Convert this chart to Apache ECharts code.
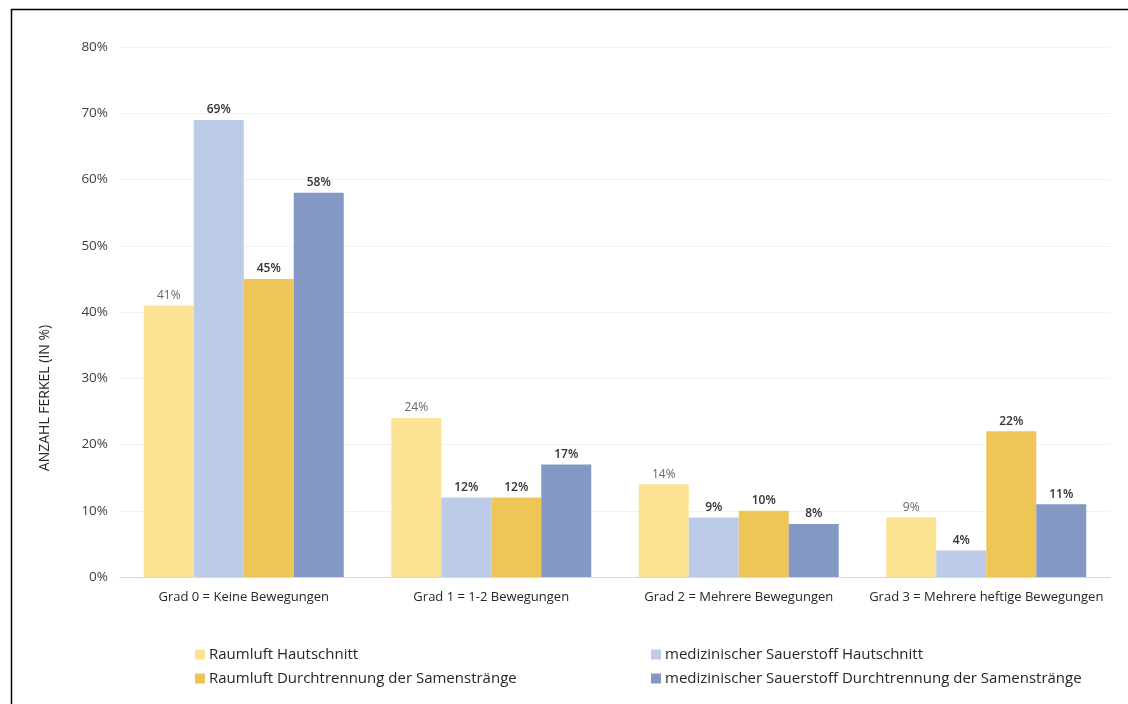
<!DOCTYPE html>
<html>
<head>
<meta charset="utf-8">
<script src="https://cdn.jsdelivr.net/npm/echarts@6/dist/echarts.min.js"></script>
<style>
  html, body { margin: 0; padding: 0; background: #fff; }
  #chart { width: 1128px; height: 704px; }
</style>
</head>
<body>
<div id="chart"></div>
<script>
// Grade categories (x axis)
const categories = [
  'Grad 0 = Keine Bewegungen',
  'Grad 1 = 1-2 Bewegungen',
  'Grad 2 = Mehrere Bewegungen',
  'Grad 3 = Mehrere heftige Bewegungen'
];

// Series names
const seriesNames = [
  'Raumluft Hautschnitt',
  'medizinischer Sauerstoff Hautschnitt',
  'Raumluft Durchtrennung der Samenstränge',
  'medizinischer Sauerstoff Durchtrennung der Samenstränge'
];

// Share of piglets per grade, in percent
const raumluftHaut = [41, 24, 14, 9];
const sauerstoffHaut = [69, 12, 9, 4];
const raumluftSamen = [45, 12, 10, 22];
const sauerstoffSamen = [58, 17, 8, 11];

// Y axis ticks
const yMin = 0;
const yMax = 80;
const yStep = 10;

const colors = ['#fce394', '#bccbe8', '#edc657', '#8399c4'];
const fontFamily = '"Open Sans", "Noto Sans", sans-serif';

const allValues = [raumluftHaut, sauerstoffHaut, raumluftSamen, sauerstoffSamen];

const series = allValues.map((vals, i) => ({
  name: seriesNames[i],
  type: 'bar',
  data: vals,
  barGap: '0%',
  barCategoryGap: '19.2%',
  itemStyle: { color: colors[i] },
  label: {
    show: true,
    position: 'top',
    distance: 4,
    formatter: '{c}%',
    fontFamily: fontFamily,
    fontSize: 12,
    color: i === 0 ? '#666666' : '#333333',
    fontWeight: i === 0 ? 'normal' : 600
  }
}));

const chart = echarts.init(document.getElementById('chart'), null, { renderer: 'canvas' });

chart.setOption({
  backgroundColor: '#ffffff',
  animation: false,
  textStyle: { fontFamily: fontFamily },
  grid: { left: 120, right: 18, top: 47, bottom: 127, containLabel: false },
  xAxis: {
    type: 'category',
    data: categories,
    axisLine: { lineStyle: { color: '#d9d9d9', width: 1 } },
    axisTick: { show: false },
    axisLabel: { interval: 0, color: '#262626', fontSize: 13, margin: 14, fontFamily: fontFamily }
  },
  yAxis: {
    type: 'value',
    min: yMin,
    max: yMax,
    interval: yStep,
    axisLine: { show: false },
    axisTick: { show: false },
    axisLabel: { formatter: '{value}%', color: '#404040', fontSize: 13.5, margin: 12, fontFamily: fontFamily },
    splitLine: { lineStyle: { color: '#f2f2f2', width: 1 } }
  },
  legend: [
    {
      orient: 'vertical',
      left: 190,
      top: 642,
      itemWidth: 10,
      itemHeight: 10,
      itemGap: 9,
      icon: 'rect',
      data: [seriesNames[0], seriesNames[2]],
      textStyle: { fontSize: 15, color: '#262626', fontFamily: fontFamily, padding: [0, 0, 0, -1] }
    },
    {
      orient: 'vertical',
      left: 646,
      top: 642,
      itemWidth: 10,
      itemHeight: 10,
      itemGap: 9,
      icon: 'rect',
      data: [seriesNames[1], seriesNames[3]],
      textStyle: { fontSize: 15, color: '#262626', fontFamily: fontFamily, padding: [0, 0, 0, -1] }
    }
  ],
  graphic: [
    {
      type: 'text',
      x: 45,
      y: 398,
      rotation: Math.PI / 2,
      style: {
        text: 'ANZAHL FERKEL (IN %)',
        fontSize: 14,
        fontFamily: fontFamily,
        fill: '#262626',
        align: 'center',
        verticalAlign: 'middle'
      }
    },
    {
      type: 'line',
      shape: { x1: 11, y1: 9.5, x2: 1128, y2: 9.5 },
      style: { stroke: '#000000', lineWidth: 1.5 }
    },
    {
      type: 'line',
      shape: { x1: 11.5, y1: 9, x2: 11.5, y2: 704 },
      style: { stroke: '#000000', lineWidth: 1.5 }
    }
  ],
  series: series
});
</script>
</body>
</html>
